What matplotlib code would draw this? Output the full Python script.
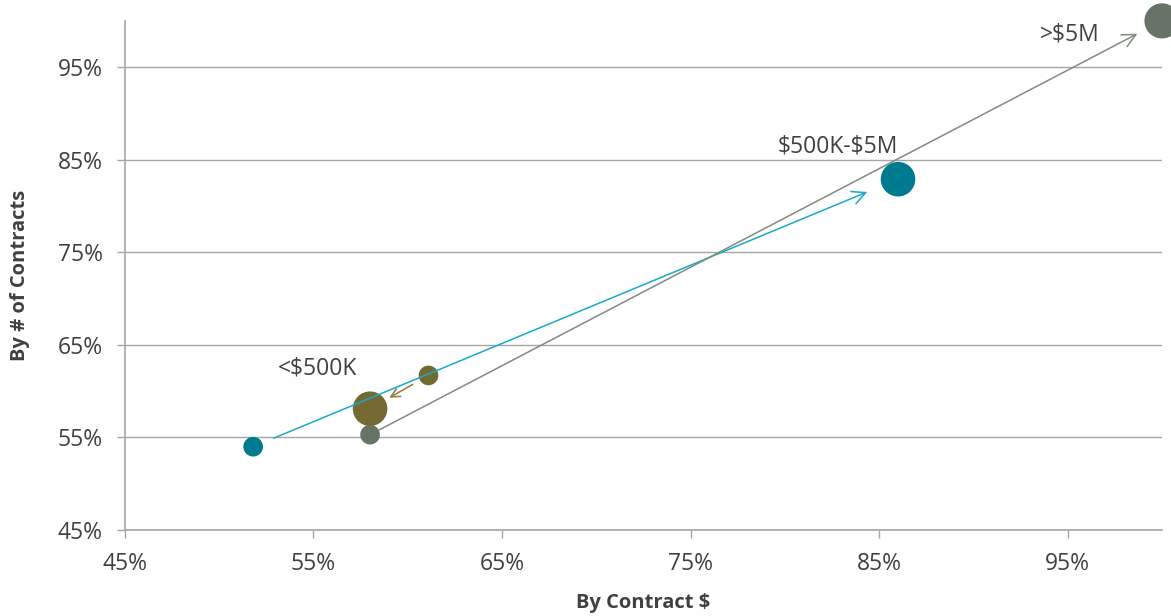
import matplotlib.pyplot as plt

# contract size groups, earlier period (small dots) -> later period (big dots)
groups = ['<$500K', '$500K-$5M', '>$5M']
start_x = [61.1, 51.8, 58.0]   # by contract $
start_y = [61.7, 54.0, 55.3]   # by # of contracts
end_x = [58.0, 86.0, 100.0]
end_y = [58.1, 82.9, 100.0]
start_size = [200, 200, 200]
end_size = [620, 620, 640]

dot_colors = ['#736A32', '#007A8E', '#677366']
arrow_colors = ['#8C7F3C', '#1BA8C9', '#808C80']

plt.rcParams['font.family'] = ['Open Sans', 'DejaVu Sans']
plt.rcParams['text.parse_math'] = False

fig = plt.figure(figsize=(11.71, 6.16), dpi=100)
ax = fig.add_axes([0.1067, 0.1396, 0.8856, 0.8265])

ax.scatter(start_x, start_y, s=start_size, c=dot_colors, zorder=3, linewidths=0)
ax.scatter(end_x, end_y, s=end_size, c=dot_colors, zorder=3, linewidths=0, clip_on=False)

# arrows from the small dot toward the big one
shrinks = [(13, 16), (16, 24), (7, 20)]
heads = [16, 24, 24]
for i in range(len(groups)):
    ax.annotate('', xy=(end_x[i], end_y[i]), xytext=(start_x[i], start_y[i]),
                arrowprops=dict(arrowstyle='->', color=arrow_colors[i], lw=1.1,
                                mutation_scale=heads[i], shrinkA=shrinks[i][0],
                                shrinkB=shrinks[i][1]),
                zorder=4)

label_pos = [(55.2, 62.4), (82.8, 86.4), (95.1, 98.5)]
for g, (lx, ly) in zip(groups, label_pos):
    ax.text(lx, ly, g, ha='center', va='center', fontsize=16.5, color='#404040')

ax.set_xlim(45, 100)
ax.set_ylim(45, 100)
ax.set_xticks([45, 55, 65, 75, 85, 95])
ax.set_yticks([45, 55, 65, 75, 85, 95])
ax.set_xticklabels([f'{t}%' for t in ax.get_xticks().astype(int)])
ax.set_yticklabels([f'{t}%' for t in ax.get_yticks().astype(int)])
ax.tick_params(axis='both', colors='#A6A6A6', labelcolor='#404040',
               labelsize=16.5, length=6, width=1)
ax.tick_params(axis='x', pad=10)
ax.tick_params(axis='y', pad=10)

ax.yaxis.grid(True, color='#A6A6A6', linewidth=1)
ax.set_axisbelow(True)
for side in ['top', 'right']:
    ax.spines[side].set_visible(False)
for side in ['left', 'bottom']:
    ax.spines[side].set_color('#A6A6A6')
    ax.spines[side].set_linewidth(1.2)

ax.set_xlabel('By Contract $', fontsize=14.5, fontweight='bold', color='#404040', labelpad=12)
ax.set_ylabel('By # of Contracts', fontsize=14.5, fontweight='bold', color='#404040', labelpad=20)

plt.savefig('out.png', dpi=100)
